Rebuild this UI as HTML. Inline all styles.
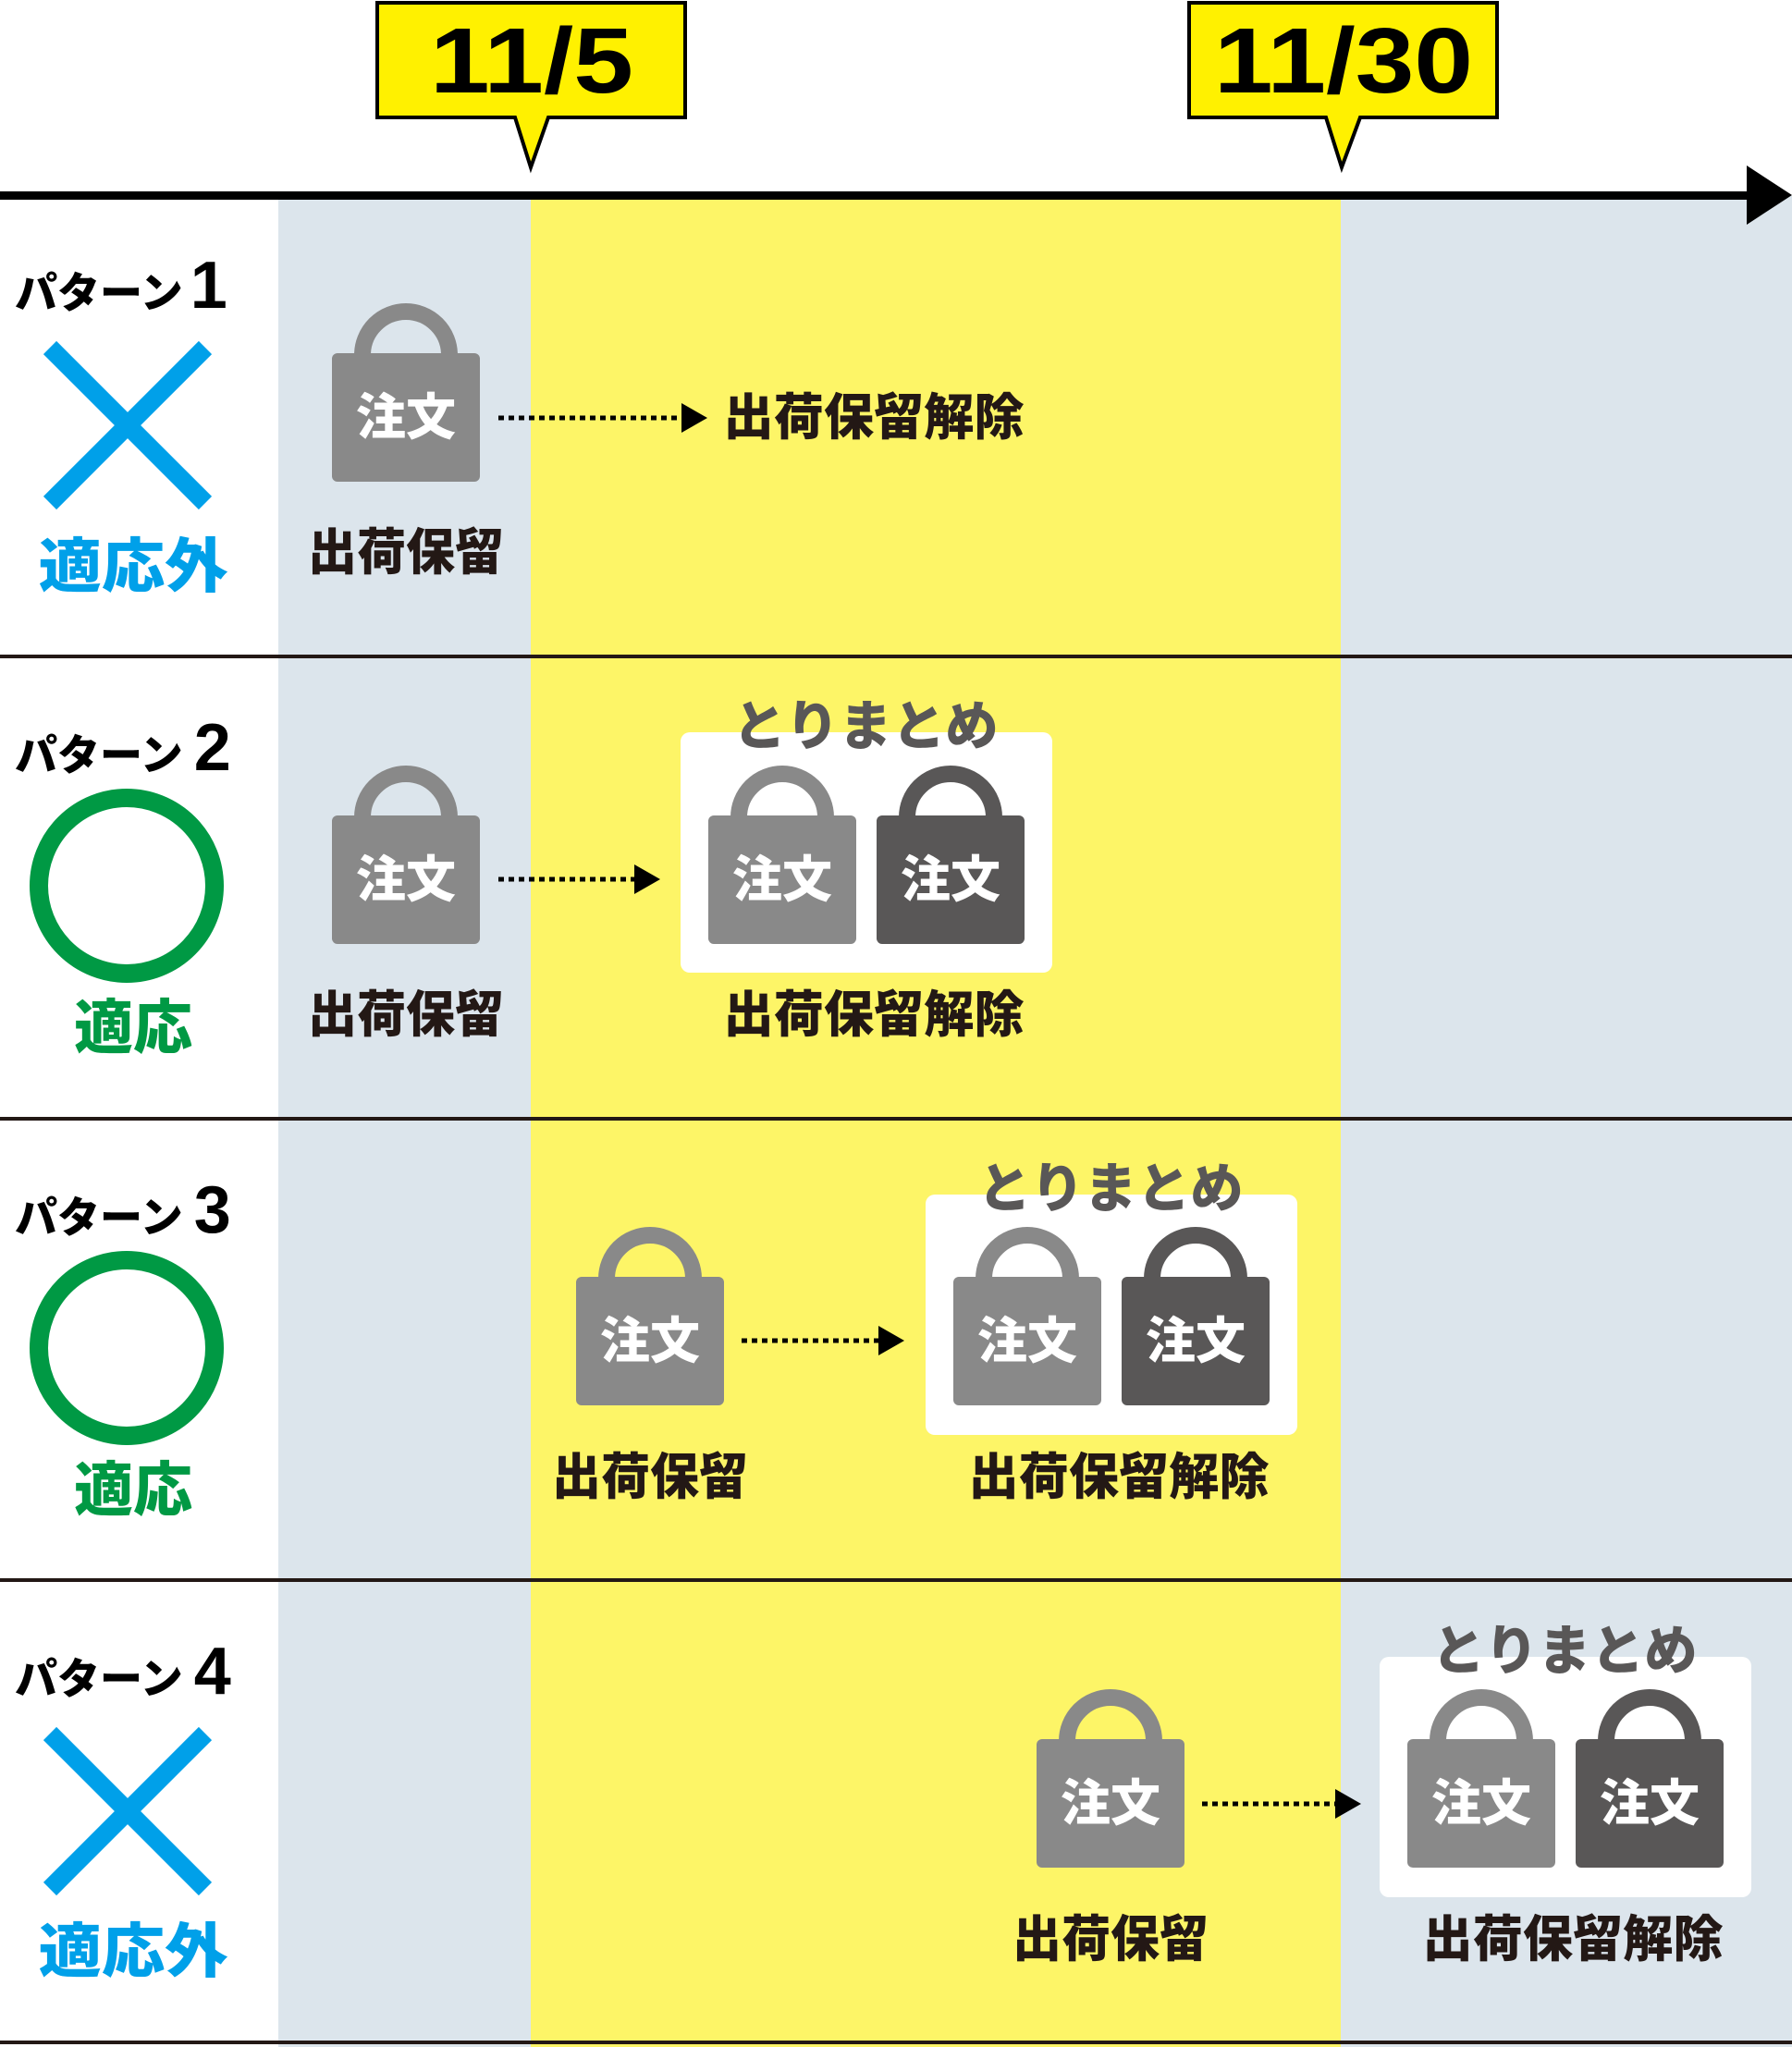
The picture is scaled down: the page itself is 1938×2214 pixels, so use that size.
<!DOCTYPE html>
<html><head><meta charset="utf-8"><style>
html,body{margin:0;padding:0;background:#fff}
svg{display:block}
text{font-family:"Liberation Sans","Noto Sans CJK JP",sans-serif;font-weight:900}
</style></head><body>
<svg width="1938" height="2214" viewBox="0 0 1938 2214" xmlns="http://www.w3.org/2000/svg">
<defs>
<g id="lockG">
  <path d="M-47,2 A47,47 0 0 1 47,2" fill="none" stroke="#898989" stroke-width="18"/>
  <rect x="-80" y="0" width="160" height="139" rx="6" fill="#898989"/>
  <text x="0" y="70" text-anchor="middle" dominant-baseline="central" font-size="54" fill="#fff">注文</text>
</g>
<g id="lockD">
  <path d="M-47,2 A47,47 0 0 1 47,2" fill="none" stroke="#595757" stroke-width="18"/>
  <rect x="-80" y="0" width="160" height="139" rx="6" fill="#595757"/>
  <text x="0" y="70" text-anchor="middle" dominant-baseline="central" font-size="54" fill="#fff">注文</text>
</g>
</defs>
<rect x="301" y="212" width="273" height="2002" fill="#dce5ec"/>
<rect x="574" y="212" width="876" height="2002" fill="#fdf567"/>
<rect x="1450" y="212" width="488" height="2002" fill="#dce5ec"/>
<rect x="0" y="207" width="1895" height="9" fill="#000"/>
<polygon points="1889,179 1938,211 1889,243" fill="#000"/>
<g stroke="#000" stroke-width="4" fill="#fff100">
<path d="M408,3 H741 V127 H593 L574,181 L557,127 H408 Z"/>
<path d="M1286,3 H1619 V127 H1471 L1451,181 L1434,127 H1286 Z"/>
</g>
<text x="575" y="100" text-anchor="middle" font-size="100" fill="#000" style="font-weight:bold" textLength="220" lengthAdjust="spacingAndGlyphs">11/5</text>
<text x="1453" y="100" text-anchor="middle" font-size="100" fill="#000" style="font-weight:bold" textLength="280" lengthAdjust="spacingAndGlyphs">11/30</text>
<rect x="0" y="708" width="1938" height="4" fill="#231815"/>
<rect x="0" y="1208" width="1938" height="4" fill="#231815"/>
<rect x="0" y="1707" width="1938" height="4" fill="#231815"/>
<rect x="0" y="2207" width="1938" height="4" fill="#231815"/>

<g fill="#000">
<text x="16" y="333" font-size="46">パターン<tspan dx="8" font-size="72">1</tspan></text>
<text x="16" y="833" font-size="46">パターン<tspan dx="12" font-size="72">2</tspan></text>
<text x="16" y="1333" font-size="46">パターン<tspan dx="12" font-size="72">3</tspan></text>
<text x="16" y="1832" font-size="46">パターン<tspan dx="12" font-size="72">4</tspan></text>
</g>
<g stroke="#00a0e9" stroke-width="20">
<line x1="54" y1="376" x2="222" y2="544"/><line x1="222" y1="376" x2="54" y2="544"/>
<line x1="54" y1="1875" x2="222" y2="2043"/><line x1="222" y1="1875" x2="54" y2="2043"/>
</g>
<circle cx="137" cy="958" r="95" fill="none" stroke="#009944" stroke-width="20"/>
<circle cx="137" cy="1458" r="95" fill="none" stroke="#009944" stroke-width="20"/>
<text x="144" y="613" text-anchor="middle" dominant-baseline="central" font-size="64" fill="#00a0e9" textLength="205" lengthAdjust="spacingAndGlyphs">適応外</text>
<text x="144" y="1112" text-anchor="middle" dominant-baseline="central" font-size="64" fill="#009944">適応</text>
<text x="144" y="1612" text-anchor="middle" dominant-baseline="central" font-size="64" fill="#009944">適応</text>
<text x="144" y="2111" text-anchor="middle" dominant-baseline="central" font-size="64" fill="#00a0e9" textLength="205" lengthAdjust="spacingAndGlyphs">適応外</text>

<use href="#lockG" x="439" y="382"/>
<line x1="539" y1="452" x2="740" y2="452" stroke="#000" stroke-width="5" stroke-dasharray="6,5"/>
<polygon points="737,436 765,452 737,468" fill="#000"/>
<text x="945" y="452" text-anchor="middle" dominant-baseline="central" font-size="54" fill="#231815" textLength="325" lengthAdjust="spacingAndGlyphs">出荷保留解除</text>
<text x="439" y="598" text-anchor="middle" dominant-baseline="central" font-size="54" fill="#231815" textLength="212" lengthAdjust="spacingAndGlyphs">出荷保留</text>

<use href="#lockG" x="439" y="882"/>
<line x1="539" y1="951" x2="690" y2="951" stroke="#000" stroke-width="5" stroke-dasharray="6,5"/>
<polygon points="686,935 714,951 686,967" fill="#000"/>
<text x="439" y="1098" text-anchor="middle" dominant-baseline="central" font-size="54" fill="#231815" textLength="212" lengthAdjust="spacingAndGlyphs">出荷保留</text>
<rect x="736" y="792" width="402" height="260" rx="10" fill="#fff"/>
<use href="#lockG" x="846" y="882"/>
<use href="#lockD" x="1028" y="882"/>
<text x="936" y="786" text-anchor="middle" dominant-baseline="central" font-size="58" fill="#595757" textLength="287" lengthAdjust="spacingAndGlyphs">とりまとめ</text>
<text x="945" y="1098" text-anchor="middle" dominant-baseline="central" font-size="54" fill="#231815" textLength="325" lengthAdjust="spacingAndGlyphs">出荷保留解除</text>

<use href="#lockG" x="703" y="1381"/>
<line x1="802" y1="1450" x2="954" y2="1450" stroke="#000" stroke-width="5" stroke-dasharray="6,5"/>
<polygon points="950,1434 978,1450 950,1466" fill="#000"/>
<text x="703" y="1598" text-anchor="middle" dominant-baseline="central" font-size="54" fill="#231815" textLength="212" lengthAdjust="spacingAndGlyphs">出荷保留</text>
<rect x="1001" y="1292" width="402" height="260" rx="10" fill="#fff"/>
<use href="#lockG" x="1111" y="1381"/>
<use href="#lockD" x="1293" y="1381"/>
<text x="1201" y="1286" text-anchor="middle" dominant-baseline="central" font-size="58" fill="#595757" textLength="287" lengthAdjust="spacingAndGlyphs">とりまとめ</text>
<text x="1210" y="1598" text-anchor="middle" dominant-baseline="central" font-size="54" fill="#231815" textLength="325" lengthAdjust="spacingAndGlyphs">出荷保留解除</text>

<use href="#lockG" x="1201" y="1881"/>
<line x1="1300" y1="1951" x2="1448" y2="1951" stroke="#000" stroke-width="5" stroke-dasharray="6,5"/>
<polygon points="1444,1935 1472,1951 1444,1967" fill="#000"/>
<text x="1201" y="2098" text-anchor="middle" dominant-baseline="central" font-size="54" fill="#231815" textLength="212" lengthAdjust="spacingAndGlyphs">出荷保留</text>
<rect x="1492" y="1792" width="402" height="260" rx="10" fill="#fff"/>
<use href="#lockG" x="1602" y="1881"/>
<use href="#lockD" x="1784" y="1881"/>
<text x="1692" y="1786" text-anchor="middle" dominant-baseline="central" font-size="58" fill="#595757" textLength="287" lengthAdjust="spacingAndGlyphs">とりまとめ</text>
<text x="1701" y="2098" text-anchor="middle" dominant-baseline="central" font-size="54" fill="#231815" textLength="325" lengthAdjust="spacingAndGlyphs">出荷保留解除</text>
</svg>
</body></html>
